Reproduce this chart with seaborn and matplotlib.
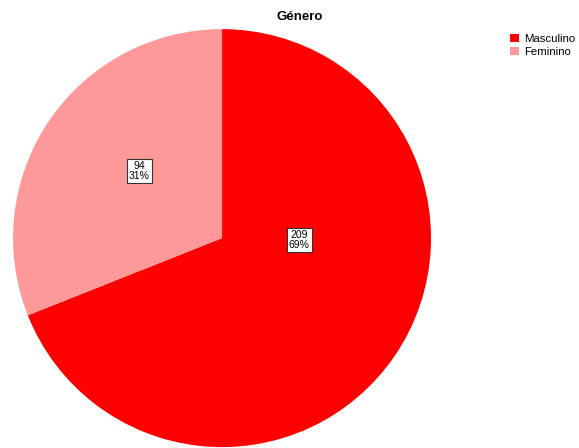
import matplotlib
matplotlib.use("Agg")
import matplotlib.pyplot as plt
import matplotlib.patches as mpatches
import seaborn as sns

categories = ["Masculino", "Feminino"]
counts = [209, 94]
percent_labels = ["69%", "31%"]
colors = ["#FF0000", "#FF9999"]

sns.set_theme(style="white")
plt.rcParams["font.family"] = ["Liberation Sans", "DejaVu Sans"]
plt.rcParams["text.color"] = "black"

fig = plt.figure(figsize=(5.79, 4.48), dpi=100)
fig.patch.set_facecolor("white")

ax = fig.add_axes([0.0225, 0.002, 0.722, 0.933])
wedges, _ = ax.pie(
    counts,
    colors=colors,
    startangle=90,
    counterclock=False,
    wedgeprops=dict(edgecolor="none", linewidth=0),
)
ax.set_aspect("equal")
ax.set_xlim(-1, 1)
ax.set_ylim(-1, 1)

# value / percent boxes inside each slice
label_pos = [(0.37, -0.01), (-0.395, 0.32)]
for (x, y), n, p in zip(label_pos, counts, percent_labels):
    ax.text(x, y, f"{n}\n{p}", ha="center", va="center", fontsize=7.5,
            linespacing=0.95, color="black",
            bbox=dict(boxstyle="square,pad=0.2", facecolor="white",
                      edgecolor="#333333", linewidth=0.8))

fig.text(0.518, 0.962, "Género", ha="center", va="center",
         fontsize=9.5, fontweight="bold", color="black")

handles = [mpatches.Patch(facecolor=c, edgecolor="none", label=l)
           for c, l in zip(colors, categories)]
fig.legend(handles=handles, loc="upper left", bbox_to_anchor=(0.880, 0.925),
           frameon=False, fontsize=8.2, handlelength=0.85, handleheight=0.8,
           handletextpad=0.45, labelspacing=0.25, borderaxespad=0, borderpad=0,
           labelcolor="black")

fig.savefig("out.png", dpi=100, facecolor="white")
